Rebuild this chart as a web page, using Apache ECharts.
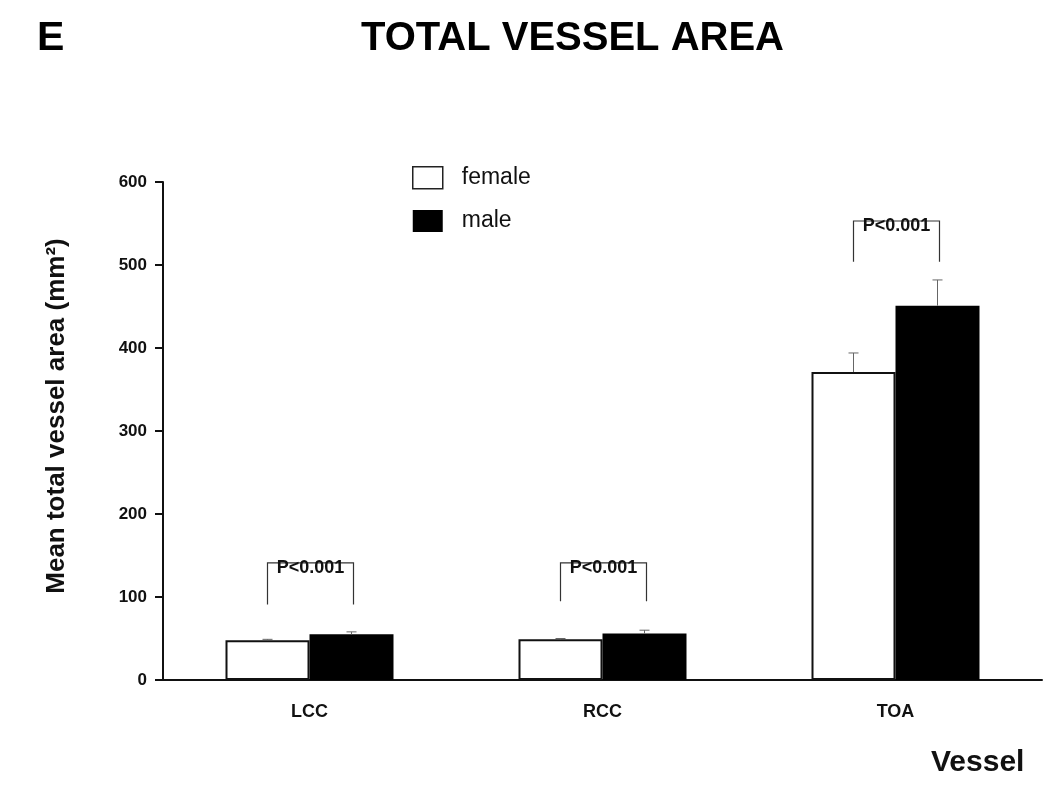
<!DOCTYPE html>
<html>
<head>
<meta charset="utf-8">
<script src="https://cdn.jsdelivr.net/npm/echarts@6/dist/echarts.min.js"></script>
<style>
html,body{margin:0;padding:0;background:#fff;}
#chart{width:1050px;height:799px;}
</style>
</head>
<body>
<div id="chart"></div>
<script>
const categories = ['LCC', 'RCC', 'TOA'];
const femaleMean = [48, 49, 371];
const maleMean = [55, 56, 451];
const femaleErr = [1, 1, 23];
const maleErr = [3, 4, 31];
const bracketBottom = [91, 95, 504];
const bracketTop = [141, 141, 553];
const pLabels = ['P<0.001', 'P<0.001', 'P<0.001'];
const yTicks = [0, 100, 200, 300, 400, 500, 600];

const FONT = '"Liberation Sans", Arial, Helvetica, sans-serif';
const BAR_W = 84;

const chart = echarts.init(document.getElementById('chart'), null, {renderer: 'canvas'});

function errorItem(meanArr, errArr, sign) {
  return function (params, api) {
    const i = api.value(0);
    const base = api.coord([i, meanArr[i]]);
    const top = api.coord([i, meanArr[i] + errArr[i]]);
    const x = base[0] + sign * BAR_W / 2;
    return {
      type: 'group',
      children: [
        {type: 'line', shape: {x1: x, y1: base[1], x2: x, y2: top[1]}, style: {stroke: '#666', lineWidth: 1}},
        {type: 'line', shape: {x1: x - 5, y1: top[1], x2: x + 5, y2: top[1]}, style: {stroke: '#666', lineWidth: 1}}
      ]
    };
  };
}

function bracketItem(params, api) {
  const i = api.value(0);
  const b = api.coord([i, bracketBottom[i]]);
  const t = api.coord([i, bracketTop[i]]);
  const xl = b[0] - 42;
  const xr = b[0] + 44;
  return {
    type: 'group',
    children: [
      {type: 'polyline', shape: {points: [[xl, b[1]], [xl, t[1]], [xr, t[1]], [xr, b[1]]]}, style: {stroke: '#333', lineWidth: 1.2, fill: null}},
      {type: 'text', x: (xl + xr) / 2, y: t[1] + 5, style: {text: pLabels[i], font: 'bold 18px ' + FONT, fill: '#111', align: 'center', verticalAlign: 'middle'}}
    ]
  };
}

const option = {
  backgroundColor: '#fff',
  animation: false,
  title: {
    text: 'TOTAL VESSEL AREA',
    left: 356,
    top: 14,
    textStyle: {fontFamily: FONT, fontWeight: 'bold', fontSize: 40, color: '#000'}
  },
  legend: {
    orient: 'vertical',
    left: 412,
    top: 166,
    padding: 0,
    itemWidth: 30,
    itemHeight: 22,
    itemGap: 20,
    icon: 'rect',
    textStyle: {fontFamily: FONT, fontSize: 23, color: '#111', padding: [0, 0, 0, 14]},
    data: [
      {name: 'female', itemStyle: {color: '#fff', borderColor: '#222', borderWidth: 1.5}},
      {name: 'male', itemStyle: {color: '#000', borderColor: '#000', borderWidth: 0}}
    ]
  },
  grid: {left: 163, right: 8, top: 182, bottom: 119, containLabel: false},
  xAxis: {
    type: 'category',
    data: categories,
    axisLine: {lineStyle: {color: '#111', width: 2}},
    axisTick: {show: false},
    axisLabel: {fontFamily: FONT, fontWeight: 'bold', fontSize: 18, color: '#111', margin: 23}
  },
  yAxis: {
    type: 'value',
    min: 0,
    max: 600,
    interval: 100,
    axisLine: {show: true, lineStyle: {color: '#111', width: 2}},
    axisTick: {show: true, length: 8, lineStyle: {color: '#111', width: 2}},
    splitLine: {show: false},
    axisLabel: {fontFamily: FONT, fontWeight: 'bold', fontSize: 17, color: '#111', margin: 16,
      formatter: function (v) { return yTicks.indexOf(v) >= 0 ? String(v) : ''; }}
  },
  series: [
    {
      name: 'female', type: 'bar', data: femaleMean, barWidth: BAR_W, barGap: '0%',
      itemStyle: {color: '#fff', borderColor: '#111', borderWidth: 2}
    },
    {
      name: 'male', type: 'bar', data: maleMean, barWidth: BAR_W, barGap: '0%',
      itemStyle: {color: '#000', borderColor: '#000', borderWidth: 0}
    },
    {
      name: 'femaleErr', type: 'custom', data: categories.map((c, i) => [i]),
      renderItem: errorItem(femaleMean, femaleErr, -1), z: 5, silent: true
    },
    {
      name: 'maleErr', type: 'custom', data: categories.map((c, i) => [i]),
      renderItem: errorItem(maleMean, maleErr, 1), z: 5, silent: true
    },
    {
      name: 'brackets', type: 'custom', data: categories.map((c, i) => [i]),
      renderItem: bracketItem, z: 6, silent: true
    }
  ],
  graphic: [
    {type: 'text', left: 37, top: 18, style: {text: 'E', font: 'bold 41px ' + FONT, fill: '#000'}},
    {type: 'text', x: 57, y: 416, rotation: Math.PI / 2,
      style: {text: 'Mean total vessel area (mm²)', font: 'bold 26px ' + FONT, fill: '#111', align: 'center', verticalAlign: 'middle'}},
    {type: 'text', x: 931, y: 763, style: {text: 'Vessel', font: 'bold 30px ' + FONT, fill: '#111', align: 'left', verticalAlign: 'middle'}}
  ]
};

chart.setOption(option);
</script>
</body>
</html>
